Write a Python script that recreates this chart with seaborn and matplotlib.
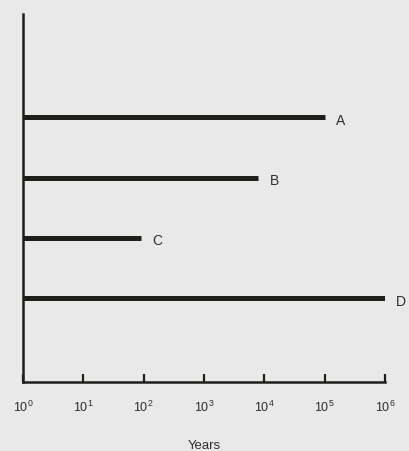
import matplotlib
matplotlib.use("Agg")
import matplotlib.pyplot as plt
import seaborn as sns
import pandas as pd

# Duration ranges (years) for each series, all starting at 10^0
labels = ["A", "B", "C", "D"]
starts = [1, 1, 1, 1]
ends = [1e5, 8e3, 90, 1e6]
levels = [4, 3, 2, 1]

tick_values = [1e0, 1e1, 1e2, 1e3, 1e4, 1e5, 1e6]
tick_labels = [r"$10^{0}$", r"$10^{1}$", r"$10^{2}$", r"$10^{3}$",
               r"$10^{4}$", r"$10^{5}$", r"$10^{6}$"]

rows = []
for lab, s, e, lv in zip(labels, starts, ends, levels):
    rows.append({"series": lab, "years": s, "level": lv})
    rows.append({"series": lab, "years": e, "level": lv})
df = pd.DataFrame(rows)

sns.set_style("white")
plt.rcParams["font.family"] = ["Liberation Sans", "DejaVu Sans"]
plt.rcParams["mathtext.fontset"] = "custom"
plt.rcParams["mathtext.rm"] = "Liberation Sans"
plt.rcParams["mathtext.it"] = "Liberation Sans"

bg = "#e9e9e9"
ink = "#1e1f1a"
text_col = "#2e2e2e"

fig = plt.figure(figsize=(4.09, 4.52), dpi=100, facecolor=bg)
ax = fig.add_axes([23 / 409, (452 - 383) / 452, (385 - 23) / 409, (383 - 15) / 452])
ax.set_facecolor(bg)

sns.lineplot(data=df, x="years", y="level", hue="series", units="series",
             estimator=None, palette=[ink] * 4, linewidth=3.6,
             legend=False, ax=ax, solid_capstyle="butt")

ax.set_xscale("log")
ax.set_xlim(1, 1e6)
ax.set_ylim(-0.4, 5.72)

for lab, e, lv in zip(labels, ends, levels):
    ax.annotate(lab, xy=(e, lv), xytext=(8, -2), textcoords="offset points",
                ha="left", va="center", fontsize=10, color=text_col)

ax.set_xticks(tick_values)
ax.set_xticklabels(tick_labels, fontsize=9, color=text_col)
ax.xaxis.set_minor_locator(matplotlib.ticker.NullLocator())
ax.tick_params(axis="x", bottom=True, direction="in", length=6, width=1.6,
               color=ink, pad=12)
ax.set_yticks([])
ax.set_ylabel("")
ax.set_xlabel("Years", fontsize=9.5, color=text_col, labelpad=18)

for side in ["top", "right"]:
    ax.spines[side].set_visible(False)
for side in ["left", "bottom"]:
    ax.spines[side].set_color(ink)
    ax.spines[side].set_linewidth(1.8)

fig.savefig("out.png", dpi=100, facecolor=bg)
